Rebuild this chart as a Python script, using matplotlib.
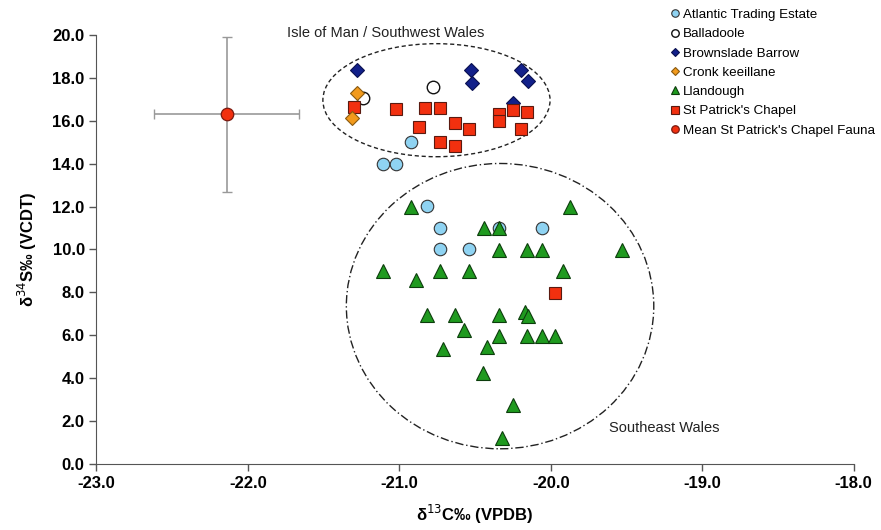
import numpy as np
import matplotlib
matplotlib.use("Agg")
import matplotlib.pyplot as plt
from matplotlib.patches import Ellipse

plt.rcParams['font.family'] = ['Liberation Sans', 'DejaVu Sans']

# --- data (d13C, d34S) ---
ate_x = [-20.92, -21.11, -21.02, -20.82, -20.73, -20.34, -20.06, -20.73, -20.54]
ate_y = [14.99, 13.98, 13.98, 12.02, 10.98, 11.01, 10.98, 10.0, 10.0]

bal_x = [-21.24, -20.78]
bal_y = [17.07, 17.58]

bro_x = [-21.28, -20.53, -20.52, -20.20, -20.15, -20.25]
bro_y = [18.36, 18.39, 17.74, 18.39, 17.86, 16.81]

cro_x = [-21.28, -21.31]
cro_y = [17.30, 16.15]

lla_x = [-20.92, -19.87, -20.44, -20.34, -20.34, -20.16, -20.06, -19.53,
         -21.11, -20.73, -20.54, -19.92, -20.89, -20.82, -20.63, -20.34,
         -20.17, -20.15, -20.57, -20.34, -20.16, -20.06, -19.97, -20.71,
         -20.42, -20.45, -20.25, -20.32]
lla_y = [11.99, 11.99, 10.98, 10.98, 9.97, 9.97, 9.97, 9.97,
         8.99, 8.99, 8.99, 8.99, 8.57, 6.94, 6.94, 6.94,
         7.10, 6.91, 6.24, 5.96, 5.96, 5.96, 5.96, 5.34,
         5.47, 4.25, 2.75, 1.20]

spc_x = [-21.30, -21.02, -20.83, -20.73, -20.87, -20.63, -20.54, -20.73,
         -20.63, -20.34, -20.34, -20.25, -20.16, -20.20, -19.97]
spc_y = [16.62, 16.53, 16.59, 16.59, 15.72, 15.90, 15.61, 15.02,
         14.82, 16.31, 16.00, 16.50, 16.40, 15.62, 7.98]

mean_x, mean_y = -22.14, 16.3
mean_xerr, mean_yerr = 0.48, 3.6

fig = plt.figure(figsize=(8.81, 5.30), dpi=100)
ax = fig.add_axes([0.1095, 0.1245, 0.8595, 0.8095])

ms = 9
ec = '#333333'
ax.errorbar(mean_x, mean_y, xerr=mean_xerr, yerr=mean_yerr, fmt='none',
            ecolor='#999999', elinewidth=1.2, capsize=3.5, zorder=2)

ax.plot(ate_x, ate_y, 'o', ms=ms, mfc='#8fd3f2', mec=ec, mew=0.8, ls='none',
        label='Atlantic Trading Estate', zorder=3)
ax.plot(bal_x, bal_y, 'o', ms=ms, mfc='white', mec='#111111', mew=1.0, ls='none',
        label='Balladoole', zorder=3)
ax.plot(bro_x, bro_y, 'D', ms=7.5, mfc='#12208a', mec='#0a1050', mew=0.8, ls='none',
        label='Brownslade Barrow', zorder=3)
ax.plot(cro_x, cro_y, 'D', ms=7.5, mfc='#f29a1c', mec='#8a5a10', mew=0.8, ls='none',
        label='Cronk keeillane', zorder=4)
ax.plot(lla_x, lla_y, '^', ms=ms + 1, mfc='#1f9a1f', mec='#0c3d0c', mew=0.8, ls='none',
        label='Llandough', zorder=3)
ax.plot(spc_x, spc_y, 's', ms=ms, mfc='#f2300f', mec='#5a1a10', mew=0.8, ls='none',
        label="St Patrick's Chapel", zorder=3)
ax.plot([mean_x], [mean_y], 'o', ms=ms, mfc='#f2300f', mec='#7a1a10', mew=0.9, ls='none',
        label="Mean St Patrick's Chapel Fauna", zorder=4)

ax.add_patch(Ellipse((-20.755, 16.96), 1.50, 5.27, fill=False, ls=(0, (3, 2)),
                     lw=1.0, ec='#222222', zorder=1))
ax.add_patch(Ellipse((-20.335, 7.36), 2.03, 13.3, fill=False, ls=(0, (6, 2, 1, 2)),
                     lw=1.0, ec='#222222', zorder=1))

ax.text(-21.09, 20.08, 'Isle of Man / Southwest Wales', fontsize=10.5, ha='center',
        va='center', color='#222222')
ax.text(-19.25, 1.68, 'Southeast Wales', fontsize=10.5, ha='center', va='center',
        color='#222222')

ax.set_xlim(-23, -18)
ax.set_ylim(0, 20)
ax.set_xticks(np.arange(-23, -17.9, 1.0))
ax.set_yticks(np.arange(0, 20.1, 2.0))
ax.set_xticklabels(['%.1f' % v for v in np.arange(-23, -17.9, 1.0)])
ax.set_yticklabels(['%.1f' % v for v in np.arange(0, 20.1, 2.0)])
for lab in ax.get_xticklabels() + ax.get_yticklabels():
    lab.set_fontweight('bold')
    lab.set_fontsize(12)
ax.tick_params(direction='out', length=5, color='#555555', width=1)
ax.spines['top'].set_visible(False)
ax.spines['right'].set_visible(False)
ax.spines['left'].set_color('#555555')
ax.spines['bottom'].set_color('#555555')

ax.set_xlabel('δ$^{13}$C‰ (VPDB)', fontsize=12, fontweight='bold', labelpad=9)
ax.set_ylabel('δ$^{34}$S‰ (VCDT)', fontsize=12, fontweight='bold', labelpad=10)

fig.legend(loc='upper left', bbox_to_anchor=(0.752, 1.0), frameon=False,
           fontsize=9.6, markerscale=0.6, handlelength=0.6, handletextpad=0.3,
           labelspacing=0.52, borderaxespad=0.25)

fig.savefig('out.png', dpi=100)
